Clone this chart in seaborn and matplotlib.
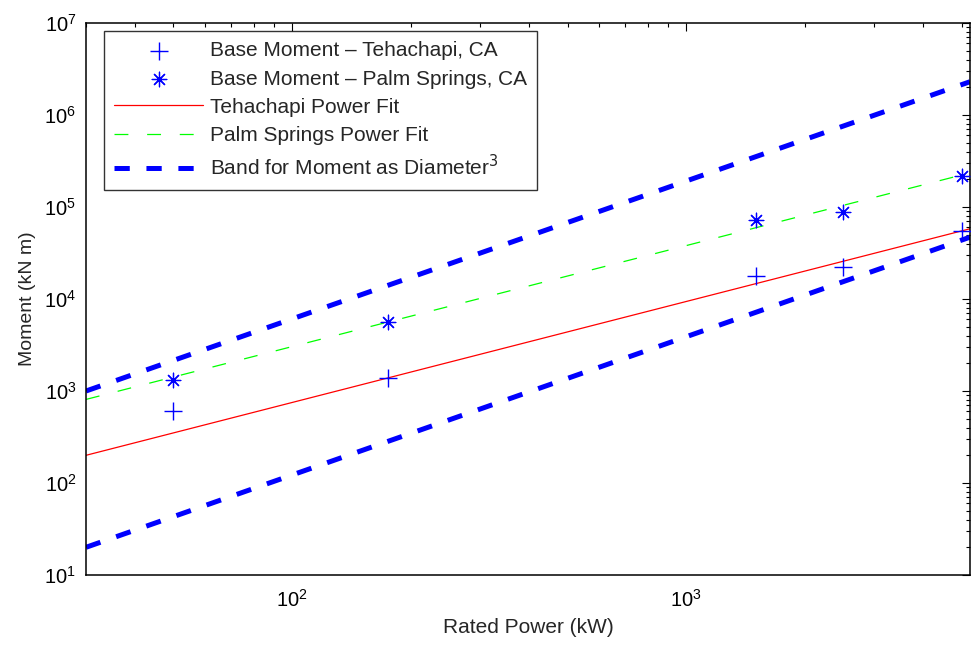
import numpy as np
import pandas as pd
import matplotlib
matplotlib.use("Agg")
import matplotlib.pyplot as plt
import seaborn as sns
from matplotlib.ticker import LogLocator, NullFormatter, FixedLocator

# ---- data ----
rated_power = [50, 175, 1500, 2500, 5000]            # kW
moment_tehachapi = [600, 1400, 18000, 22000, 55000]    # kN m
moment_palm = [1320, 5600, 72000, 88000, 215000]       # kN m

fit_x = [30, 5250]                                     # kW (ends of fit lines)
fit_tehachapi = [200, 58000]
fit_palm = [810, 235000]
band_upper = [1000, 2.3e6]
band_lower = [20, 47000]

x_major = [1e2, 1e3]
y_major = [1e1, 1e2, 1e3, 1e4, 1e5, 1e6, 1e7]

sns.set_theme(style="white")
plt.rcParams["font.family"] = ["Liberation Sans", "DejaVu Sans"]
plt.rcParams["lines.scale_dashes"] = False

fig = plt.figure(figsize=(9.71, 6.46), dpi=100)
ax = fig.add_axes([86 / 971, 1 - 575 / 646, 884 / 971, 552 / 646])
ax.set_xscale("log")
ax.set_yscale("log")

blue = (0, 0, 1)
sns.scatterplot(x=rated_power, y=moment_tehachapi, marker="+", s=150, color=blue,
                linewidth=1.0, ax=ax, label="Base Moment \u2013 Tehachapi, CA", zorder=5)
sns.scatterplot(x=rated_power, y=moment_palm, marker=(8, 2, 0), s=110, color=blue,
                linewidth=0.9, ax=ax, label="Base Moment \u2013 Palm Springs, CA", zorder=5)

sns.lineplot(x=fit_x, y=fit_tehachapi, color="red", linewidth=0.9, ax=ax,
             label="Tehachapi Power Fit")
sns.lineplot(x=fit_x, y=fit_palm, color=(0, 1, 0), linewidth=0.9, ax=ax,
             label="Palm Springs Power Fit")
ax.lines[-1].set_dashes((10, 13.5))
sns.lineplot(x=fit_x, y=band_upper, color=blue, linewidth=3.6, ax=ax,
             label="Band for Moment as Diameter$^3$")
ax.lines[-1].set_dashes((11, 12))
ax.lines[-1].set_dash_capstyle("butt")
sns.lineplot(x=fit_x, y=band_lower, color=blue, linewidth=3.6, ax=ax)
ax.lines[-1].set_dashes((11, 12))
ax.lines[-1].set_dash_capstyle("butt")

ax.set_xlim(30, 5250)
ax.set_ylim(10, 1e7)

ax.xaxis.set_major_locator(FixedLocator(x_major))
ax.xaxis.set_minor_locator(LogLocator(base=10, subs=np.arange(2, 10), numticks=20))
ax.yaxis.set_major_locator(FixedLocator(y_major))
ax.yaxis.set_minor_locator(LogLocator(base=10, subs=np.arange(2, 10), numticks=20))
ax.xaxis.set_minor_formatter(NullFormatter())
ax.yaxis.set_minor_formatter(NullFormatter())

ax.tick_params(which="both", direction="in", top=True, right=True, colors="black",
               labelsize=14.5, width=0.8)
ax.tick_params(which="major", length=6)
ax.tick_params(which="minor", length=3)
ax.tick_params(axis="x", pad=10)
ax.tick_params(axis="y", pad=7)
for s in ax.spines.values():
    s.set_color("black")
    s.set_linewidth(1.1)

ax.set_xlabel("Rated Power (kW)", fontsize=15, labelpad=5)
ax.set_ylabel("Moment (kN m)", fontsize=14, labelpad=6)

leg = ax.legend(loc="upper left", bbox_to_anchor=(18 / 884, 544 / 552), borderaxespad=0,
                fontsize=15, handlelength=4.25, handletextpad=0.34, labelspacing=0.44,
                frameon=True, fancybox=False, edgecolor="black", borderpad=0.5)
leg.get_frame().set_linewidth(1.0)

fig.savefig("out.png", dpi=100)
